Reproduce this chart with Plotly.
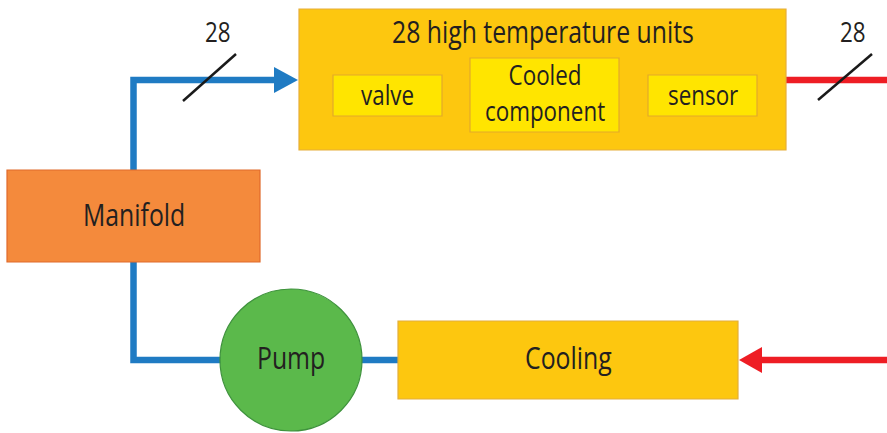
import plotly.graph_objects as go

# ---- data ----
box_names = ["units", "valve", "cooled", "sensor", "manifold", "cooling"]
box_x0 = [299, 333, 470, 648, 7, 398]
box_x1 = [786, 442, 619, 757, 260, 738]
box_y0 = [9, 75, 58, 75, 170, 321]
box_y1 = [150, 116, 132, 116, 262, 399]
box_fill = ["#FDC70F", "#FFE500", "#FFE500", "#FFE500", "#F48A3C", "#FDC70F"]
box_line = ["#E6AE3A", "#E3A92B", "#E3A92B", "#E3A92B", "#E06A2B", "#E3AE3B"]

text_labels = ["28 high temperature units", "valve", "Cooled<br>component", "sensor",
               "Manifold", "Pump", "Cooling", "28", "28"]
text_x = [543, 387.5, 544.5, 702.5, 133.5, 291, 568, 218, 853]
text_y = [31, 94, 92, 94, 214, 357, 357, 31, 31]
text_size = [31, 28, 28, 28, 31, 31, 31, 28, 28]

pump_cx, pump_cy, pump_r = 291, 360, 71

slash_x0 = [183, 818]
slash_y0 = [101, 100]
slash_x1 = [236, 872]
slash_y1 = [54, 54]

BLUE = "#1F7BC3"
RED = "#EE1D24"
TXT = "#231F20"
FONT = "Open Sans, sans-serif"

fig = go.Figure()
shapes = []

# pipes
shapes.append(dict(type="path", path="M 133.5 171 L 133.5 80 L 277 80",
                   line=dict(color=BLUE, width=6.5)))
shapes.append(dict(type="path", path="M 298 80 L 274 67 L 274 93 Z",
                   fillcolor=BLUE, line=dict(color=BLUE, width=0)))
shapes.append(dict(type="path", path="M 133.5 261 L 133.5 360 L 222 360",
                   line=dict(color=BLUE, width=6.5)))
shapes.append(dict(type="line", x0=360, y0=360, x1=399, y1=360,
                   line=dict(color=BLUE, width=6.5)))
shapes.append(dict(type="line", x0=786, y0=80, x1=887, y1=80,
                   line=dict(color=RED, width=6.5)))
shapes.append(dict(type="line", x0=887, y0=360, x1=760, y1=360,
                   line=dict(color=RED, width=6.5)))
shapes.append(dict(type="path", path="M 739 360 L 762 347 L 762 373 Z",
                   fillcolor=RED, line=dict(color=RED, width=0)))

for i in range(len(box_names)):
    shapes.append(dict(type="rect", x0=box_x0[i], x1=box_x1[i], y0=box_y0[i], y1=box_y1[i],
                       fillcolor=box_fill[i], line=dict(color=box_line[i], width=1.2)))

shapes.append(dict(type="circle", x0=pump_cx - pump_r, x1=pump_cx + pump_r,
                   y0=pump_cy - pump_r, y1=pump_cy + pump_r,
                   fillcolor="#5BB94B", line=dict(color="#3E923C", width=1.2)))

for i in range(len(slash_x0)):
    shapes.append(dict(type="line", x0=slash_x0[i], y0=slash_y0[i], x1=slash_x1[i], y1=slash_y1[i],
                       line=dict(color="#1A1A1A", width=2.5)))

annotations = []
for i, lab in enumerate(text_labels):
    annotations.append(dict(x=text_x[i], y=text_y[i], text=lab, showarrow=False,
                            xref="x", yref="y", xanchor="center", yanchor="middle",
                            font=dict(family=FONT, size=text_size[i], color=TXT, weight=500)))

fig.update_layout(
    width=887, height=433, autosize=False,
    margin=dict(l=0, r=0, t=0, b=0),
    paper_bgcolor="white", plot_bgcolor="white",
    xaxis=dict(range=[0, 887], visible=False, fixedrange=True),
    yaxis=dict(range=[433, 0], visible=False, fixedrange=True),
    shapes=shapes, annotations=annotations, showlegend=False,
)
fig.write_html("out.html", config={"displayModeBar": False})

css = ("<style>html,body{margin:0;padding:0;overflow:hidden;}"
       "text.annotation-text{transform-box:fill-box;transform-origin:50% 50%;"
       "transform:scaleX(0.8);}</style>")
with open("out.html", "r", encoding="utf-8") as f:
    html = f.read()
html = html.replace("<head>", "<head>" + css, 1)
with open("out.html", "w", encoding="utf-8") as f:
    f.write(html)
